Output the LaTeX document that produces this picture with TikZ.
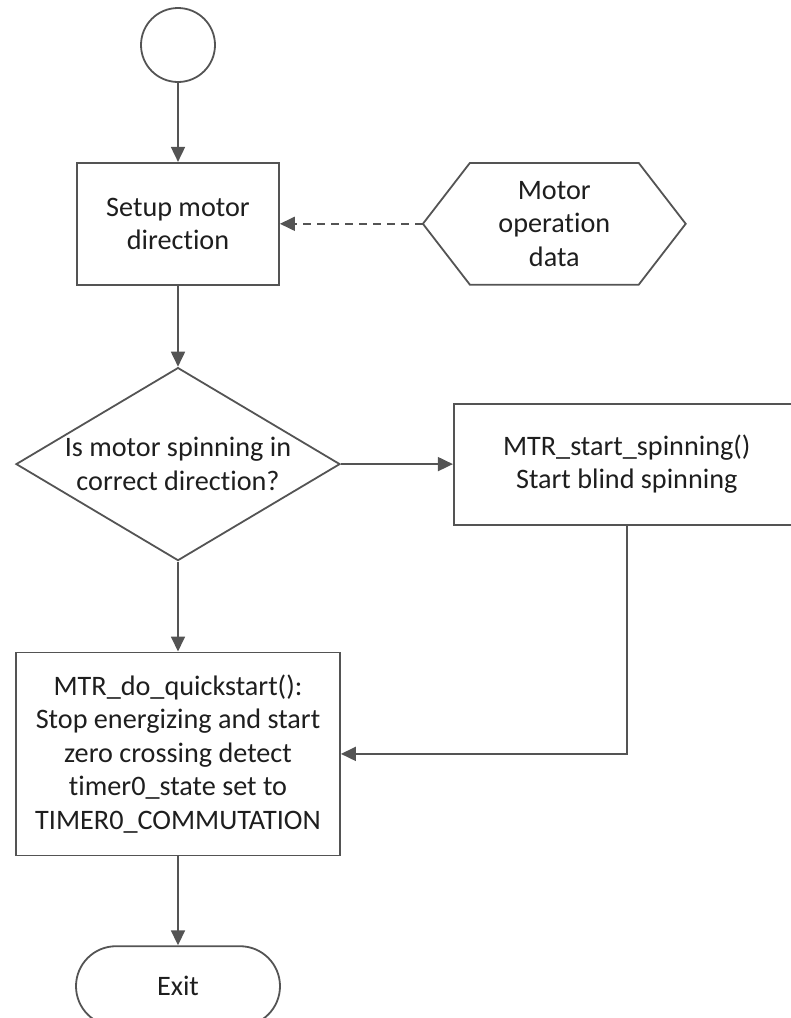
\documentclass[tikz,border=0pt]{standalone}
\usepackage{fontspec}
\setmainfont{Carlito}[Ligatures=NoCommon]
\usepackage{xcolor}
\usetikzlibrary{shapes.geometric, arrows.meta, positioning, calc}
\definecolor{linegray}{RGB}{84,84,84}
\definecolor{textgray}{RGB}{30,30,30}

\begin{document}
\begin{tikzpicture}[
    node distance=40pt,
    every node/.style={font=\fontsize{14.1}{16.75}\selectfont, text=textgray},
    startnode/.style={circle, draw=linegray, line width=0.9pt, minimum size=37pt, inner sep=0pt},
    process/.style={rectangle, draw=linegray, line width=0.9pt, minimum width=101pt, minimum height=61pt, align=center, inner sep=2pt},
    decision/.style={diamond, draw=linegray, line width=0.9pt, minimum width=162pt, minimum height=96.5pt, inner sep=0pt},
    datanode/.style={minimum width=131pt, minimum height=60.5pt, align=center, inner sep=0pt},
    terminal/.style={rectangle, rounded corners=20pt, draw=linegray, line width=0.9pt, minimum width=102pt, minimum height=40pt, align=center},
    arr/.style={-{Triangle[length=7.5pt, width=7pt]}, line width=0.9pt, draw=linegray},
  ]
    \useasboundingbox (0,0) rectangle (395.5pt,-509pt);

    \node[startnode] (start) at (89pt,-22.5pt) {};
    \node[process, below=39.5pt of start] (setup) {Setup motor\\direction};
    \node[datanode, right=71.5pt of setup] (opdata) {Motor\\operation\\data};
    \draw[line width=0.9pt, draw=linegray] (opdata.west)
      -- ($(opdata.north west)+(23.5pt,0)$) -- ($(opdata.north east)+(-23.5pt,0)$)
      -- (opdata.east)
      -- ($(opdata.south east)+(-23.5pt,0)$) -- ($(opdata.south west)+(23.5pt,0)$) -- cycle;
    \draw[arr] (start) -- (setup);
    \draw[arr, dash pattern=on 4pt off 3pt] (opdata.west) -- (setup.east);

    \node[decision, below=40.5pt of setup,
      label={[align=center]center:Is motor spinning in\\correct direction?}] (spin) {};
    \node[process, minimum width=173pt, minimum height=60.5pt, right=56pt of spin] (blind)
      {MTR\_start\_spinning()\\Start blind spinning};
    \draw[arr] (setup) -- (spin);
    \draw[arr] (spin.east) -- (spin.east -| blind.west);

    \node[process, minimum width=162pt, minimum height=101.5pt, below=45pt of spin] (quick)
      {MTR\_do\_quickstart():\\Stop energizing and start\\zero crossing detect\\timer0\_state set to\\TIMER0\_COMMUTATION};
    \node[terminal, below=44.5pt of quick] (exit) {Exit};
    \draw[arr] (spin) -- (quick);
    \draw[arr] (blind.south) |- (quick.east);
    \draw[arr] (quick) -- (exit);
  \end{tikzpicture}
\end{document}
